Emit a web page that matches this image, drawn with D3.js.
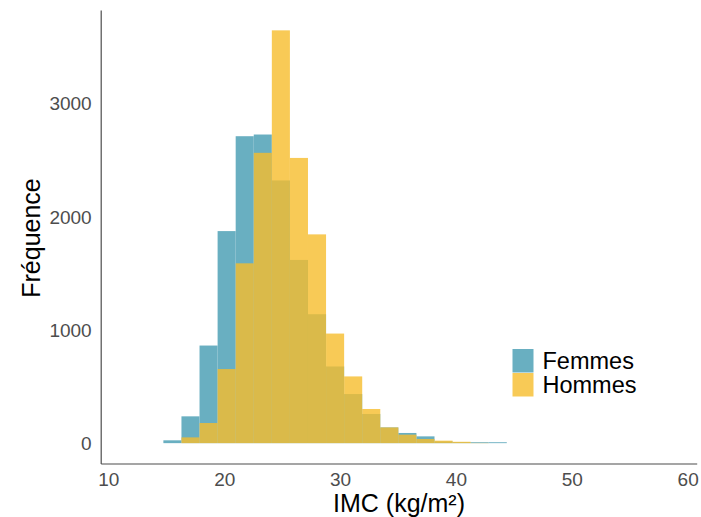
<!DOCTYPE html>
<html>
<head>
<meta charset="utf-8">
<script src="https://cdn.jsdelivr.net/npm/d3@7"></script>
<style>
  body { margin: 0; background: #fff; }
  svg { display: block; font-family: "Liberation Sans", Arial, sans-serif; }
</style>
</head>
<body>
<svg id="chart" width="701" height="517"></svg>
<script>
// bin edges of the histogram (IMC, kg/m²)
const binEdges = [14.75, 16.31, 17.87, 19.43, 20.99, 22.55, 24.11, 25.67, 27.23, 28.79,
                  30.35, 31.91, 33.47, 35.03, 36.59, 38.15, 39.71, 41.27, 42.83, 44.39];
// counts per bin
const femmes = [25, 237, 863, 1875, 2714, 2729, 2323, 1620, 1140, 678, 434, 258, 139, 90, 60, 15, 8, 8, 8];
const hommes = [0, 51, 178, 655, 1590, 2567, 3650, 2522, 1846, 969, 590, 302, 139, 75, 37, 22, 12, 2, 0];
const xTicks = [10, 20, 30, 40, 50, 60];
const yTicks = [0, 1000, 2000, 3000];
const groups = ["Femmes", "Hommes"];

const colors = { Femmes: "#69afc1", Hommes: "#f6bd2c" };

const svg = d3.select("#chart");

// panel
const x = d3.scaleLinear().domain([9.34, 60.78]).range([100.7, 696.7]);
const y = d3.scaleLinear().domain([-180, 3830]).range([463.5, 10]);

// bars: femmes first, hommes on top with transparency
const series = [
  { name: "Femmes", values: femmes, opacity: 1 },
  { name: "Hommes", values: hommes, opacity: 0.8 }
];

series.forEach(s => {
  svg.append("g")
    .selectAll("rect")
    .data(s.values.map((v, i) => ({ x0: binEdges[i], x1: binEdges[i + 1], v })))
    .join("rect")
    .attr("x", d => x(d.x0))
    .attr("width", d => x(d.x1) - x(d.x0))
    .attr("y", d => y(d.v))
    .attr("height", d => y(0) - y(d.v))
    .attr("fill", colors[s.name])
    .attr("fill-opacity", s.opacity);
});

// axes
const xAxis = svg.append("g")
  .attr("transform", `translate(0,${y.range()[0]})`)
  .call(d3.axisBottom(x).tickValues(xTicks).tickFormat(d3.format("d")).tickSize(0).tickPadding(10).tickSizeOuter(0));
const yAxis = svg.append("g")
  .attr("transform", `translate(${x.range()[0]},0)`)
  .call(d3.axisLeft(y).tickValues(yTicks).tickFormat(d3.format("d")).tickSize(0).tickPadding(9).tickSizeOuter(0));

[xAxis, yAxis].forEach(a => {
  a.select(".domain").attr("stroke", "#4d4d4d").attr("stroke-width", 1.2);
  a.selectAll("text").attr("fill", "#4d4d4d").style("font-size", "19px");
});
xAxis.selectAll("text").attr("dy", "0.66em");

// axis titles
svg.append("text")
  .attr("x", 399)
  .attr("y", 512)
  .attr("text-anchor", "middle")
  .style("font-size", "25px")
  .attr("fill", "#000")
  .text("IMC (kg/m²)");

svg.append("text")
  .attr("transform", "translate(40,238) rotate(-90)")
  .attr("text-anchor", "middle")
  .style("font-size", "25px")
  .attr("fill", "#000")
  .text("Fréquence");

// legend
const legend = svg.selectAll(".legend")
  .data(groups)
  .join("g")
  .attr("class", "legend")
  .attr("transform", (d, i) => `translate(512.5,${349 + i * 24})`);

legend.append("rect")
  .attr("width", 21)
  .attr("height", 23.5)
  .attr("fill", d => colors[d])
  .attr("fill-opacity", (d, i) => series[i].opacity);

legend.append("text")
  .attr("x", 30)
  .attr("y", 12)
  .attr("dy", "0.36em")
  .style("font-size", "23.5px")
  .attr("fill", "#000")
  .text(d => d);
</script>
</body>
</html>
